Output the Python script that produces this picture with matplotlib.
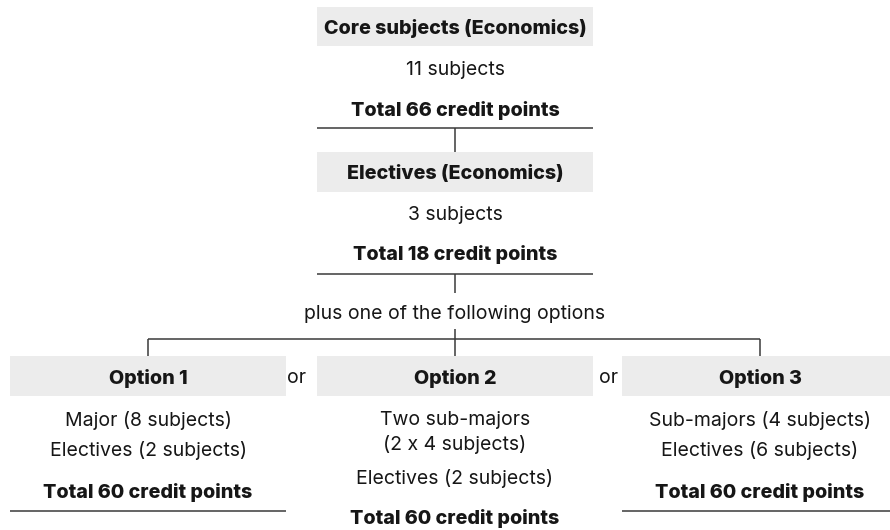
import matplotlib
matplotlib.use("Agg")
import matplotlib.pyplot as plt
from matplotlib.patches import Rectangle

plt.rcParams['font.family'] = ['Inter', 'DejaVu Sans']

# ---- content ----
core_title = "Core subjects (Economics)"
core_lines = ["11 subjects"]
core_total = "Total 66 credit points"

elec_title = "Electives (Economics)"
elec_lines = ["3 subjects"]
elec_total = "Total 18 credit points"

connector_text = "plus one of the following options"
separator_text = "or"

option_titles = ["Option 1", "Option 2", "Option 3"]
option_lines = [
    ["Major (8 subjects)", "Electives (2 subjects)"],
    ["Two sub-majors", "(2 x 4 subjects)", "Electives (2 subjects)"],
    ["Sub-majors (4 subjects)", "Electives (6 subjects)"],
]
option_totals = ["Total 60 credit points"] * 3

# ---- style ----
BOX = "#ececec"
TXT = "#161616"
LINE = "#3a3a3a"
FS = 14
FSB = 14.2
BW = 'heavy'

fig = plt.figure(figsize=(8.9, 5.3), dpi=100)
ax = fig.add_axes([0, 0, 1, 1])
ax.set_xlim(0, 890)
ax.set_ylim(530, 0)
ax.axis('off')


def box(cx, y0, w, h, title):
    ax.add_patch(Rectangle((cx - w / 2, y0), w, h, facecolor=BOX, edgecolor='none'))
    ax.text(cx, y0 + h / 2, title, ha='center', va='center_baseline', fontsize=FSB,
            fontweight=BW, color=TXT)


def txt(cx, y, s, bold=False):
    ax.text(cx, y, s, ha='center', va='center_baseline',
            fontsize=FSB if bold else FS,
            fontweight=BW if bold else 'normal', color=TXT)


def hline(x0, x1, y):
    ax.plot([x0, x1], [y, y], color=LINE, lw=1.1, solid_capstyle='butt')


def vline(x, y0, y1):
    ax.plot([x, x], [y0, y1], color=LINE, lw=1.1, solid_capstyle='butt')


W = 276
cx = 455
# core
box(cx, 7, W, 39, core_title)
txt(cx, 68, core_lines[0])
txt(cx, 108, core_total, bold=True)
hline(cx - W / 2, cx + W / 2, 128)
vline(cx, 128, 152)
# electives
box(cx, 152, W, 40, elec_title)
txt(cx, 213, elec_lines[0])
txt(cx, 253, elec_total, bold=True)
hline(cx - W / 2, cx + W / 2, 274)
vline(cx, 274, 293)
txt(cx, 312, connector_text)
vline(cx, 329, 356)

# options
ocx = [148, 455, 760]
hline(ocx[0], ocx[2], 339)
for x in (ocx[0], ocx[2]):
    vline(x, 339, 356)

line_y = {
    0: [418, 448],
    1: [418, 443, 477],
    2: [418, 448],
}
total_y = [490, 517, 490]
for i, x in enumerate(ocx):
    box(x, 356, W, 40, option_titles[i])
    for s, y in zip(option_lines[i], line_y[i]):
        txt(x, y, s)
    txt(x, total_y[i], option_totals[i], bold=True)
    if i != 1:
        hline(x - W / 2, x + W / 2, 511)

txt(297, 376, separator_text)
txt(608, 376, separator_text)

fig.savefig("out.png", dpi=100)
